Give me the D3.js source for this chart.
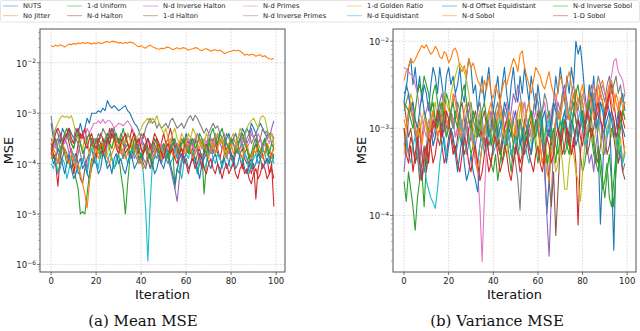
<!DOCTYPE html>
<html>
<head>
<meta charset="utf-8">
<script src="https://cdn.jsdelivr.net/npm/d3@7"></script>
<style>
  body { margin: 0; background: #fff; }
  svg { display: block; }
</style>
</head>
<body>
<div id="chart"></div>
<script>
// series names, in the order they were plotted (legend reads column by column)
var seriesNames = ["NUTS", "No Jitter", "1-d Uniform", "N-d Halton", "N-d Inverse Halton",
    "1-d Halton", "N-d Primes", "N-d Inverse Primes", "1-d Golden Ratio", "N-d Equidistant",
    "N-d Offset Equidistant", "N-d Sobol", "N-d Inverse Sobol", "1-D Sobol"];
var colors = ["#1f77b4", "#ff7f0e", "#2ca02c", "#d62728", "#9467bd", "#8c564b", "#e377c2",
    "#7f7f7f", "#bcbd22", "#17becf", "#1f77b4", "#ff7f0e", "#2ca02c", "#d62728"];

var iterations = d3.range(100);
var xTicks = [0, 20, 40, 60, 80, 100];
var meanYTicks = [-6, -5, -4, -3, -2];
var varYTicks = [-4, -3, -2];
var captions = ["(a) Mean MSE", "(b) Variance MSE"];

// values are log10(MSE)
// ---- (a) Mean MSE ----
var meanNUTS = [-3.2,-3.5,-3.3,-3.4,-3.6,-3.3,-3.4,-3.5,-3.3,-3.4, -3.5,-3.3,-3.4,-3.2,-3.4,-3.3,-3.1,-3.2,-3.0,-3.0,
    -3.0,-2.95,-2.98,-2.9,-2.95,-2.75,-2.85,-2.9,-2.85,-2.9, -2.95,-2.92,-2.88,-2.85,-2.95,-3.0,-3.1,-3.2,-3.25,-3.35,
    -3.5,-3.6,-3.7,-3.5,-3.6,-3.8,-3.7,-3.6,-3.8,-3.9, -3.7,-3.6,-3.8,-3.7,-3.5,-3.6,-3.9,-3.7,-3.5,-3.6,
    -3.4,-3.6,-3.5,-3.7,-3.6,-3.4,-3.5,-3.6,-3.8,-3.6, -3.5,-3.7,-3.8,-3.6,-3.4,-3.5,-3.6,-3.7,-3.5,-3.4,
    -3.6,-3.5,-3.4,-3.6,-3.5,-3.3,-3.4,-3.3,-3.4,-3.2, -3.3,-3.4,-3.3,-3.2,-3.3,-3.4,-3.35,-3.45,-3.4,-3.5];
var meanNoJitter = [-1.66,-1.68,-1.65,-1.67,-1.64,-1.66,-1.69,-1.66,-1.63,-1.64, -1.62,-1.63,-1.61,-1.62,-1.6,-1.62,-1.6,-1.61,-1.63,-1.61,
    -1.62,-1.6,-1.62,-1.61,-1.59,-1.58,-1.6,-1.57,-1.58,-1.59, -1.61,-1.6,-1.62,-1.6,-1.61,-1.59,-1.6,-1.62,-1.66,-1.68,
    -1.66,-1.69,-1.71,-1.67,-1.65,-1.68,-1.7,-1.72,-1.73,-1.71, -1.72,-1.7,-1.69,-1.71,-1.74,-1.72,-1.7,-1.73,-1.71,-1.7,
    -1.72,-1.75,-1.73,-1.72,-1.7,-1.71,-1.74,-1.76,-1.73,-1.72, -1.74,-1.77,-1.75,-1.74,-1.76,-1.75,-1.78,-1.82,-1.8,-1.78,
    -1.77,-1.75,-1.76,-1.75,-1.77,-1.8,-1.85,-1.83,-1.85,-1.83, -1.84,-1.87,-1.85,-1.84,-1.88,-1.86,-1.9,-1.92,-1.93,-1.91];
var meanUniform1d = [-3.7,-3.9,-3.8,-4.0,-3.7,-3.6,-3.8,-4.0,-3.9,-4.1, -4.0,-4.3,-4.5,-5.0,-4.95,-5.0,-4.6,-4.2,-3.9,-4.0,
    -3.8,-3.7,-3.9,-3.6,-3.8,-3.5,-3.7,-3.9,-4.1,-4.0, -3.8,-4.2,-4.5,-5.0,-4.4,-3.9,-3.7,-3.8,-3.6,-3.7,
    -3.9,-3.8,-3.6,-3.7,-3.9,-4.1,-3.8,-3.6,-3.8,-4.0, -3.7,-3.9,-4.0,-3.8,-3.6,-4.5,-4.1,-4.2,-3.9,-3.7,
    -3.6,-3.8,-3.5,-3.7,-3.9,-4.2,-4.0,-3.8,-4.6,-4.0, -3.7,-3.5,-3.6,-3.8,-3.6,-3.4,-3.5,-3.7,-3.9,-3.6,
    -3.8,-4.0,-3.7,-3.5,-3.4,-3.6,-3.8,-3.7,-3.9,-4.1, -3.8,-3.6,-3.7,-3.9,-3.7,-3.5,-3.8,-3.9,-4.0,-3.8];
var meanHaltonNd = [-3.6,-3.8,-4.0,-4.45,-3.9,-3.6,-3.5,-3.4,-3.6,-3.8, -4.2,-3.9,-3.6,-3.4,-3.5,-3.3,-3.6,-3.8,-3.5,-3.7,
    -3.9,-3.6,-3.4,-3.5,-3.7,-3.6,-3.3,-3.5,-3.4,-3.6, -3.5,-3.7,-3.9,-3.6,-3.4,-3.5,-3.3,-3.5,-3.6,-3.8,
    -3.6,-3.4,-3.5,-3.7,-3.9,-3.8,-3.6,-3.5,-3.7,-3.6, -3.4,-3.6,-3.5,-3.3,-3.5,-3.7,-3.6,-3.8,-3.9,-3.7,
    -3.5,-3.6,-3.8,-3.7,-3.5,-3.6,-3.9,-4.1,-3.8,-3.6, -3.8,-3.7,-3.5,-3.6,-3.8,-3.9,-3.7,-3.6,-3.8,-3.7,
    -3.9,-4.0,-3.8,-3.7,-3.9,-4.1,-3.8,-3.9,-4.0,-4.2, -4.0,-4.7,-4.1,-3.9,-3.8,-4.0,-3.9,-4.2,-4.0,-4.85];
var meanInvHaltonNd = [-3.5,-3.7,-3.6,-3.8,-3.9,-3.7,-3.5,-3.6,-3.8,-3.7, -3.9,-4.0,-3.8,-3.6,-3.7,-3.9,-4.1,-3.8,-3.6,-3.7,
    -3.5,-3.6,-3.8,-3.7,-3.9,-3.6,-3.4,-3.3,-3.5,-3.6, -3.8,-3.7,-3.5,-3.6,-3.4,-3.5,-3.7,-3.9,-3.8,-3.6,
    -3.7,-3.9,-4.0,-3.8,-3.6,-3.8,-3.9,-3.7,-3.8,-4.0, -3.8,-3.7,-3.9,-4.1,-4.3,-4.5,-4.75,-4.3,-4.0,-3.8,
    -3.6,-3.7,-3.5,-3.6,-3.8,-3.7,-3.9,-4.0,-3.8,-3.7, -3.5,-3.6,-3.8,-3.6,-3.4,-3.6,-3.7,-3.5,-3.6,-3.8,
    -3.7,-3.5,-3.6,-3.8,-3.7,-3.5,-3.4,-3.6,-3.5,-3.3, -3.5,-3.4,-3.6,-3.5,-3.7,-3.6,-3.4,-3.5,-3.3,-3.15];
var meanHalton1d = [-3.9,-3.8,-4.0,-4.2,-4.0,-3.9,-3.7,-3.8,-4.0,-4.1, -3.9,-3.8,-4.0,-4.3,-4.4,-4.1,-3.9,-3.8,-3.7,-3.9,
    -3.8,-3.6,-3.7,-3.5,-3.6,-3.4,-3.5,-3.3,-3.4,-3.6, -3.7,-3.5,-3.6,-3.8,-3.7,-3.9,-3.8,-3.6,-3.7,-3.9,
    -4.0,-3.8,-3.7,-3.9,-4.1,-3.9,-3.8,-3.7,-3.9,-3.8, -3.6,-3.7,-3.8,-3.6,-3.5,-3.7,-3.8,-3.6,-3.7,-3.9,
    -3.8,-3.6,-3.7,-3.9,-4.0,-3.8,-3.7,-3.9,-3.8,-3.6, -3.7,-3.8,-3.6,-3.5,-3.7,-3.9,-4.0,-3.8,-3.7,-3.6,
    -3.8,-3.9,-3.7,-3.6,-3.8,-3.7,-3.9,-4.0,-3.8,-3.9, -3.7,-3.6,-3.8,-3.9,-3.7,-3.8,-3.6,-3.9,-3.8,-3.7];
var meanPrimesNd = [-3.6,-3.5,-3.7,-3.6,-3.4,-3.5,-3.6,-3.5,-3.4,-3.6, -3.5,-3.4,-3.5,-3.6,-3.4,-3.5,-3.3,-3.4,-3.3,-3.2,
    -3.2,-3.15,-3.2,-3.12,-3.2,-3.15,-3.15,-3.2,-3.3,-3.25, -3.2,-3.22,-3.25,-3.2,-3.15,-3.22,-3.3,-3.4,-3.5,-3.6,
    -3.5,-3.7,-3.6,-3.8,-3.7,-3.6,-3.8,-3.9,-3.7,-3.6, -3.8,-3.7,-3.6,-3.5,-3.7,-3.8,-3.6,-3.7,-3.9,-3.8,
    -3.6,-3.5,-3.6,-3.7,-3.5,-3.4,-3.6,-3.7,-3.5,-3.6, -3.4,-3.5,-3.6,-3.4,-3.5,-3.6,-3.5,-3.4,-3.6,-3.7,
    -3.5,-3.6,-3.7,-3.5,-3.4,-3.6,-3.5,-3.7,-3.6,-3.4, -3.5,-3.6,-3.4,-3.5,-3.7,-3.6,-3.5,-3.6,-3.4,-3.5];
var meanInvPrimesNd = [-3.05,-3.4,-3.6,-3.5,-3.7,-3.6,-3.4,-3.5,-3.3,-3.6, -3.7,-3.5,-3.6,-3.8,-4.0,-3.7,-3.5,-3.4,-3.6,-3.5,
    -3.6,-3.4,-3.5,-3.3,-3.4,-3.5,-3.6,-3.4,-3.3,-3.5, -3.6,-3.4,-3.5,-3.7,-3.6,-3.8,-3.9,-3.7,-3.5,-3.6,
    -3.4,-3.5,-3.3,-3.2,-3.1,-3.2,-3.15,-3.3,-3.2,-3.3, -3.25,-3.2,-3.3,-3.15,-3.1,-3.2,-3.3,-3.25,-3.2,-3.3,
    -3.2,-3.1,-3.05,-3.15,-3.04,-3.1,-3.2,-3.3,-3.4,-3.3, -3.4,-3.3,-3.2,-3.3,-3.25,-3.4,-3.5,-3.6,-3.4,-3.5,
    -3.6,-3.5,-3.4,-3.6,-3.5,-3.7,-3.6,-3.5,-3.4,-3.6, -3.5,-3.4,-3.6,-3.5,-3.3,-3.4,-3.5,-3.4,-3.6,-3.5];
var meanGolden1d = [-3.6,-3.5,-3.3,-3.2,-3.1,-3.05,-3.08,-3.06,-3.1,-3.05, -3.2,-3.4,-3.5,-3.6,-3.7,-3.5,-3.6,-3.8,-3.7,-3.6,
    -3.7,-3.8,-3.6,-3.7,-3.9,-3.8,-3.6,-3.7,-3.5,-3.6, -3.8,-3.7,-3.5,-3.6,-3.4,-3.5,-3.7,-3.6,-3.5,-3.4,
    -3.3,-3.2,-3.15,-3.1,-3.2,-3.1,-3.15,-3.05,-3.2,-3.3, -3.4,-3.3,-3.5,-3.6,-3.4,-3.3,-3.5,-3.6,-3.4,-3.5,
    -3.6,-3.4,-3.5,-3.3,-3.4,-3.6,-3.7,-3.5,-3.6,-3.4, -3.5,-3.6,-3.7,-3.5,-3.4,-3.6,-3.5,-3.7,-3.8,-3.6,
    -3.5,-3.4,-3.6,-3.5,-3.3,-3.4,-3.5,-3.3,-3.2,-3.15, -3.1,-3.2,-3.3,-3.1,-3.05,-3.1,-3.3,-3.5,-3.4,-3.6];
var meanEquiNd = [-4.0,-4.1,-3.9,-4.2,-4.1,-3.9,-4.0,-4.3,-4.1,-3.9, -3.8,-4.0,-4.2,-4.1,-3.9,-4.0,-4.2,-3.9,-3.7,-3.8,
    -3.9,-4.1,-3.8,-3.7,-3.9,-4.0,-3.8,-3.9,-4.1,-3.9, -3.8,-3.7,-3.9,-3.8,-4.0,-3.9,-3.7,-3.8,-3.9,-4.0,
    -3.9,-4.2,-4.9,-5.93,-4.8,-4.0,-3.8,-3.9,-3.7,-3.8, -3.9,-3.7,-3.8,-4.0,-3.9,-3.7,-3.8,-4.1,-4.3,-4.0,
    -3.8,-3.9,-3.7,-3.8,-4.0,-4.2,-3.9,-3.8,-4.1,-4.0, -3.8,-3.7,-3.9,-4.0,-3.8,-3.9,-4.1,-3.9,-3.8,-4.0,
    -4.1,-3.9,-3.8,-3.7,-3.9,-4.0,-3.8,-3.9,-4.2,-4.0, -3.9,-3.8,-4.0,-3.9,-3.7,-3.8,-4.0,-3.9,-3.8,-4.0];
var meanOffsetEquiNd = [-3.8,-4.0,-3.9,-3.7,-3.8,-4.0,-4.2,-4.0,-3.8,-4.1, -4.3,-4.2,-4.0,-3.9,-4.1,-4.0,-4.2,-4.3,-4.1,-3.9,
    -4.0,-4.2,-4.1,-3.8,-3.9,-4.1,-4.0,-4.2,-3.9,-3.8, -4.0,-3.9,-4.1,-4.2,-4.0,-3.8,-3.9,-4.1,-4.0,-3.9,
    -3.8,-4.0,-4.1,-3.9,-3.8,-4.0,-4.2,-4.1,-3.9,-4.0, -4.1,-3.9,-3.8,-4.0,-4.2,-4.4,-4.1,-3.9,-3.8,-4.0,
    -3.9,-4.1,-4.0,-3.8,-3.9,-4.1,-4.3,-4.0,-3.9,-3.8, -4.0,-4.1,-3.9,-3.8,-4.0,-4.2,-4.0,-3.9,-4.1,-4.0,
    -3.8,-3.9,-4.1,-4.0,-3.8,-3.9,-4.1,-4.2,-4.0,-3.9, -4.1,-4.0,-3.8,-3.9,-4.1,-4.0,-3.9,-4.0,-3.8,-3.9];
var meanSobolNd = [-3.9,-3.7,-3.8,-4.0,-3.8,-3.6,-3.7,-3.9,-4.0,-3.8, -3.9,-4.1,-4.0,-4.2,-4.4,-4.6,-4.88,-4.4,-4.0,-3.8,
    -3.7,-3.9,-3.8,-3.6,-3.7,-3.9,-4.0,-3.8,-3.7,-3.5, -3.6,-3.8,-3.7,-3.9,-3.8,-3.6,-3.5,-3.7,-3.8,-4.0,
    -3.9,-4.1,-4.0,-3.8,-3.7,-3.9,-3.8,-3.6,-3.7,-3.9, -3.8,-3.6,-3.5,-3.7,-3.8,-3.9,-3.7,-3.6,-3.5,-3.7,
    -3.8,-3.6,-3.7,-3.9,-3.8,-3.6,-3.5,-3.7,-3.6,-3.8, -3.9,-3.7,-3.6,-3.8,-3.7,-3.5,-3.6,-3.8,-3.9,-3.7,
    -3.6,-3.8,-3.7,-3.6,-3.8,-3.9,-3.7,-3.6,-3.8,-3.9, -3.7,-3.8,-3.6,-3.7,-3.9,-3.8,-3.6,-3.7,-3.9,-3.6];
var meanInvSobolNd = [-3.7,-3.6,-3.5,-3.7,-3.8,-3.6,-3.4,-3.3,-3.5,-3.6, -3.7,-3.5,-3.4,-3.6,-3.8,-3.7,-3.5,-3.4,-3.6,-3.7,
    -3.5,-3.6,-3.8,-3.7,-3.5,-3.4,-3.6,-3.7,-3.5,-3.4, -3.6,-3.5,-3.3,-3.5,-3.6,-3.8,-3.7,-3.5,-3.6,-3.7,
    -3.9,-3.7,-3.6,-3.8,-3.9,-3.7,-3.5,-3.6,-3.8,-3.7, -3.6,-3.8,-3.9,-3.7,-3.6,-3.5,-3.7,-3.8,-3.6,-3.5,
    -3.7,-3.8,-3.6,-3.5,-3.7,-3.6,-3.4,-3.5,-3.7,-3.8, -3.6,-3.4,-3.3,-3.5,-3.6,-3.4,-3.3,-3.5,-3.6,-3.7,
    -3.5,-3.6,-3.8,-3.7,-3.5,-3.4,-3.6,-3.7,-3.9,-3.8, -3.6,-3.5,-3.7,-3.8,-3.6,-3.5,-3.7,-3.8,-3.6,-3.7];
var meanSobol1d = [-3.8,-3.6,-3.4,-3.3,-3.4,-3.6,-3.5,-3.4,-3.3,-3.5, -3.6,-3.4,-3.3,-3.5,-3.4,-3.6,-3.7,-3.5,-3.4,-3.6,
    -3.7,-3.5,-3.6,-3.8,-3.7,-3.5,-3.6,-3.4,-3.5,-3.7, -3.8,-3.6,-3.5,-3.4,-3.6,-3.7,-3.5,-3.4,-3.6,-3.5,
    -3.7,-3.8,-3.6,-3.5,-3.7,-3.6,-3.4,-3.5,-3.6,-3.8, -3.9,-3.7,-3.6,-3.8,-3.7,-3.9,-4.0,-3.8,-3.7,-3.9,
    -4.0,-4.2,-4.0,-3.9,-4.1,-4.0,-3.8,-3.9,-4.1,-4.2, -4.0,-3.9,-4.1,-4.2,-4.0,-4.1,-4.3,-4.1,-4.0,-4.2,
    -4.1,-4.0,-4.2,-4.3,-4.1,-4.0,-4.2,-4.1,-4.3,-4.4, -4.2,-4.1,-4.3,-4.2,-4.0,-4.1,-4.3,-4.2,-4.1,-4.3];

// ---- (b) Variance MSE ----
var varNUTS = [-2.6,-2.55,-2.3,-2.2,-2.5,-2.3,-2.6,-2.4,-2.7,-2.5, -2.6,-2.8,-2.5,-2.3,-2.4,-2.6,-2.3,-2.5,-2.7,-2.4,
    -2.3,-2.5,-2.4,-2.6,-2.5,-2.3,-2.6,-2.7,-2.4,-2.2, -2.3,-2.6,-2.5,-2.8,-2.6,-2.4,-2.7,-2.5,-2.3,-2.6,
    -2.8,-2.6,-2.4,-2.7,-2.5,-2.3,-2.6,-2.8,-2.5,-2.3, -2.6,-2.7,-2.4,-2.6,-2.3,-2.5,-2.7,-2.4,-2.6,-2.8,
    -2.5,-2.7,-2.9,-3.4,-3.98,-3.6,-3.0,-2.7,-2.4,-2.6, -2.3,-2.5,-2.7,-2.4,-2.6,-2.3,-2.5,-2.0,-2.15,-2.05,
    -2.3,-2.6,-2.8,-2.5,-2.7,-2.4,-2.8,-3.2,-4.1,-3.5, -2.9,-2.7,-2.8,-3.5,-4.4,-3.3,-2.9,-2.7,-2.6,-2.8];
var varNoJitter = [-2.45,-2.35,-2.3,-2.2,-2.25,-2.21,-2.15,-2.1,-2.05,-2.08, -2.04,-2.1,-2.15,-2.12,-2.06,-2.1,-2.18,-2.2,-2.12,-2.15,
    -2.25,-2.2,-2.1,-2.08,-2.15,-2.3,-2.35,-2.28,-2.4,-2.2, -2.3,-2.25,-2.35,-2.45,-2.5,-2.6,-2.45,-2.55,-2.4,-2.6,
    -2.65,-2.5,-2.6,-2.7,-2.55,-2.45,-2.5,-2.4,-2.3,-2.2, -2.25,-2.35,-2.15,-2.11,-2.3,-2.4,-2.5,-2.6,-2.45,-2.3,
    -2.35,-2.4,-2.5,-2.55,-2.45,-2.35,-2.5,-2.6,-2.7,-2.55, -2.4,-2.5,-2.6,-2.45,-2.35,-2.5,-2.65,-2.55,-2.7,-2.6,
    -2.5,-2.7,-2.8,-2.9,-2.75,-2.6,-2.55,-2.7,-2.5,-2.45, -2.6,-2.75,-2.55,-2.45,-2.6,-2.7,-2.8,-2.65,-2.75,-2.9];
var varUniform1d = [-3.61,-3.84,-3.5,-3.7,-3.9,-4.17,-3.8,-3.6,-3.5,-3.9, -3.4,-3.1,-2.8,-2.6,-2.5,-2.7,-2.9,-3.1,-2.8,-2.6,
    -2.7,-2.9,-3.0,-2.8,-2.9,-3.1,-3.2,-3.0,-2.9,-3.1, -3.3,-3.2,-3.0,-3.1,-2.9,-3.0,-3.2,-3.1,-3.3,-3.4,
    -3.5,-3.3,-3.6,-3.4,-3.2,-3.0,-3.1,-3.3,-3.5,-3.2, -3.0,-2.9,-3.1,-3.3,-3.2,-3.0,-2.9,-2.8,-3.0,-3.2,
    -3.4,-3.2,-3.0,-3.1,-2.9,-2.8,-3.0,-3.2,-3.4,-3.1, -2.9,-3.1,-3.3,-3.2,-3.0,-2.8,-2.7,-2.9,-3.1,-3.3,
    -3.5,-3.4,-3.2,-3.0,-3.1,-3.3,-3.4,-3.2,-3.5,-3.7, -3.6,-3.4,-3.8,-3.9,-3.6,-3.3,-3.1,-2.9,-2.8,-2.7];
var varHaltonNd = [-3.0,-3.1,-3.3,-3.1,-3.2,-3.4,-3.2,-3.0,-3.3,-3.5, -3.3,-3.1,-3.2,-3.4,-3.3,-3.1,-3.0,-3.2,-3.4,-3.3,
    -3.1,-3.0,-3.2,-3.3,-3.1,-2.9,-3.1,-3.3,-3.2,-3.0, -2.9,-3.1,-3.3,-3.4,-3.2,-3.0,-3.1,-3.3,-3.5,-3.4,
    -3.2,-3.0,-3.1,-3.3,-3.2,-3.0,-2.9,-3.1,-3.3,-3.2, -3.0,-3.2,-3.4,-3.3,-3.1,-3.0,-3.2,-3.3,-3.1,-2.9,
    -3.0,-3.2,-3.4,-3.3,-3.1,-3.0,-3.2,-3.1,-2.9,-3.0, -3.2,-3.1,-2.9,-3.0,-3.2,-3.3,-3.1,-3.4,-4.11,-3.3,
    -3.0,-2.9,-3.1,-3.0,-2.8,-2.7,-2.9,-2.8,-2.6,-2.7, -2.9,-2.8,-2.6,-2.5,-2.7,-2.9,-3.0,-2.8,-3.1,-3.3];
var varInvHaltonNd = [-3.5,-3.2,-2.9,-2.7,-2.8,-3.0,-3.2,-3.4,-3.1,-2.9, -2.8,-2.7,-2.9,-3.1,-3.0,-2.8,-2.7,-2.6,-2.8,-3.0,
    -2.9,-2.8,-2.7,-2.6,-2.8,-2.9,-3.1,-3.0,-2.8,-2.7, -2.9,-3.1,-3.2,-3.0,-2.8,-3.0,-3.2,-3.1,-2.9,-2.8,
    -3.0,-3.1,-2.9,-2.7,-2.8,-3.0,-3.2,-3.0,-2.8,-2.6, -2.7,-2.5,-2.6,-2.8,-2.7,-2.9,-3.1,-3.0,-2.8,-2.6,
    -2.7,-2.9,-3.1,-3.5,-4.0,-4.47,-3.8,-3.2,-2.9,-2.7, -2.8,-2.6,-2.5,-2.7,-2.9,-2.8,-2.6,-2.7,-2.9,-3.0,
    -2.8,-3.0,-3.2,-3.4,-3.3,-3.5,-3.2,-3.0,-2.9,-3.1, -3.3,-3.1,-2.9,-2.8,-3.0,-3.2,-3.4,-3.3,-3.5,-3.4];
var varHalton1d = [-2.7,-2.9,-3.1,-3.0,-3.2,-3.4,-3.3,-3.6,-3.4,-3.2, -3.5,-3.3,-3.1,-3.0,-2.9,-3.1,-3.2,-3.0,-2.8,-2.9,
    -3.0,-2.8,-2.9,-3.1,-3.0,-2.8,-2.7,-2.9,-3.0,-3.2, -3.1,-2.9,-2.8,-3.0,-3.1,-2.9,-2.8,-3.0,-3.2,-3.1,
    -2.9,-3.0,-3.2,-3.3,-3.1,-3.0,-2.9,-3.1,-3.3,-3.4, -3.2,-3.0,-2.9,-3.1,-3.3,-3.2,-3.0,-2.9,-3.1,-3.0,
    -2.8,-3.0,-3.2,-3.4,-3.3,-3.6,-3.9,-3.5,-4.23,-3.7, -3.2,-3.0,-2.9,-3.1,-3.2,-3.0,-2.8,-2.9,-3.1,-3.0,
    -2.9,-3.1,-3.3,-3.2,-3.0,-3.1,-3.3,-3.4,-3.2,-3.0, -3.1,-3.3,-3.2,-3.0,-3.1,-3.3,-3.4,-3.2,-3.5,-3.59];
var varPrimesNd = [-2.3,-2.32,-2.35,-2.38,-2.4,-2.5,-2.6,-2.8,-2.9,-3.0, -3.1,-2.9,-3.0,-3.2,-3.1,-2.9,-3.0,-2.8,-2.7,-2.9,
    -3.0,-2.8,-2.9,-3.1,-3.0,-2.9,-3.1,-3.2,-3.0,-2.9, -3.1,-3.2,-3.4,-3.5,-3.9,-4.53,-3.8,-3.2,-3.0,-2.9,
    -3.0,-2.8,-2.9,-3.1,-3.0,-2.8,-2.7,-2.9,-3.0,-2.8, -2.9,-3.1,-3.0,-2.8,-2.7,-2.9,-3.0,-3.1,-2.9,-2.8,
    -3.0,-2.9,-2.8,-2.7,-2.9,-3.0,-2.8,-2.7,-2.6,-2.8, -2.9,-2.7,-2.6,-2.8,-2.9,-3.0,-2.8,-2.7,-2.9,-2.8,
    -2.6,-2.7,-2.9,-2.8,-2.6,-2.5,-2.7,-2.8,-2.6,-2.5, -2.6,-2.7,-2.5,-2.4,-2.23,-2.2,-2.35,-2.4,-2.45,-2.6];
var varInvPrimesNd = [-2.8,-2.7,-2.6,-2.8,-2.9,-3.1,-3.0,-3.3,-3.6,-3.4, -3.2,-3.0,-2.9,-2.8,-3.0,-2.9,-2.7,-2.8,-3.0,-3.1,
    -2.9,-2.8,-3.0,-2.9,-2.7,-2.8,-3.0,-3.1,-2.9,-2.8, -2.7,-2.9,-3.0,-2.8,-2.7,-2.9,-3.1,-3.0,-2.8,-2.9,
    -3.0,-2.8,-2.7,-2.9,-3.0,-2.8,-2.9,-3.1,-3.3,-3.2, -3.4,-3.6,-3.94,-3.3,-3.0,-2.8,-2.7,-2.9,-2.8,-2.6,
    -2.7,-2.9,-2.8,-2.6,-2.7,-2.9,-3.0,-2.8,-2.7,-2.9, -2.8,-2.6,-2.7,-2.9,-2.8,-2.6,-2.5,-2.7,-2.8,-2.6,
    -2.7,-2.9,-2.8,-2.6,-2.5,-2.7,-2.6,-2.4,-2.5,-2.6, -2.7,-2.5,-2.4,-2.6,-2.5,-2.4,-2.6,-2.5,-2.7,-2.6];
var varGolden1d = [-3.3,-3.0,-2.8,-2.6,-2.7,-2.9,-3.0,-3.1,-2.9,-2.8, -3.0,-3.1,-2.9,-2.8,-2.7,-2.9,-3.0,-2.8,-2.6,-2.7,
    -2.8,-2.6,-2.5,-2.4,-2.3,-2.25,-2.3,-2.35,-2.45,-2.6, -2.8,-3.0,-3.1,-2.9,-2.8,-3.0,-3.1,-2.9,-2.8,-3.0,
    -3.2,-3.1,-2.9,-2.8,-3.0,-3.1,-3.3,-3.2,-3.0,-2.9, -3.1,-3.0,-2.8,-2.7,-2.9,-3.0,-3.2,-3.1,-2.9,-3.1,
    -3.3,-3.2,-3.0,-3.1,-3.3,-3.4,-3.2,-3.3,-3.5,-3.4, -3.2,-3.4,-3.7,-3.7,-3.4,-3.2,-3.3,-3.5,-3.6,-3.84,
    -3.5,-3.2,-3.0,-2.9,-3.1,-3.2,-3.0,-2.9,-3.1,-3.3, -3.2,-3.0,-2.9,-3.1,-3.0,-3.2,-3.3,-3.1,-3.4,-3.2];
var varEquiNd = [-3.2,-3.1,-3.3,-3.4,-3.2,-3.1,-3.3,-3.5,-3.6,-3.4, -3.6,-3.7,-3.8,-3.85,-3.92,-3.7,-3.4,-3.2,-3.1,-3.3,
    -3.2,-3.0,-3.1,-3.3,-3.2,-3.0,-2.9,-3.1,-3.3,-3.2, -3.0,-3.1,-3.3,-3.4,-3.2,-3.1,-3.3,-3.2,-3.0,-3.1,
    -3.3,-3.2,-3.0,-2.9,-3.1,-3.2,-3.0,-3.1,-3.3,-3.2, -3.1,-3.3,-3.2,-3.0,-3.1,-3.3,-3.4,-3.2,-3.0,-3.1,
    -3.0,-2.9,-3.1,-3.2,-3.0,-2.9,-3.1,-3.2,-3.0,-2.8, -2.9,-3.0,-2.8,-2.7,-2.9,-2.8,-3.0,-3.1,-2.9,-2.8,
    -3.0,-3.2,-3.1,-2.9,-2.8,-2.7,-2.9,-3.0,-2.8,-2.7, -2.9,-3.1,-3.0,-2.8,-2.9,-3.1,-3.3,-3.2,-3.4,-3.3];
var varOffsetEquiNd = [-2.7,-2.5,-2.6,-2.8,-2.7,-2.9,-3.0,-2.8,-2.6,-2.8, -2.9,-3.1,-3.0,-3.2,-3.1,-2.9,-2.8,-3.0,-3.2,-3.4,
    -3.2,-3.0,-3.1,-3.3,-3.5,-3.3,-3.1,-3.4,-3.6,-3.5, -3.3,-3.5,-3.6,-3.73,-3.4,-3.2,-3.0,-2.9,-3.1,-3.0,
    -2.8,-2.9,-3.1,-3.0,-2.9,-2.7,-2.8,-3.0,-3.1,-2.9, -2.8,-3.0,-3.2,-3.1,-2.9,-3.0,-3.2,-3.3,-3.1,-2.9,
    -3.0,-3.1,-2.9,-2.8,-3.0,-3.1,-2.9,-2.7,-2.8,-3.0, -3.1,-2.9,-2.8,-3.0,-3.1,-2.9,-3.0,-3.2,-3.1,-2.9,
    -2.8,-3.0,-2.9,-2.7,-2.6,-2.8,-3.0,-2.9,-2.7,-2.8, -3.0,-2.9,-2.8,-2.9,-3.1,-3.0,-2.8,-2.9,-3.0,-3.1];
var varSobolNd = [-2.9,-3.0,-2.8,-2.7,-2.9,-3.0,-3.1,-2.9,-3.2,-3.0, -2.9,-3.1,-3.0,-2.8,-2.9,-3.1,-3.0,-2.8,-2.7,-2.9,
    -3.0,-2.8,-2.6,-2.7,-2.9,-3.1,-3.0,-2.8,-2.7,-2.9, -3.0,-3.2,-3.3,-3.5,-3.4,-3.2,-3.0,-2.9,-2.8,-2.7,
    -2.9,-3.0,-2.8,-2.7,-2.9,-3.1,-3.0,-2.8,-2.9,-3.1, -3.0,-2.8,-2.7,-2.9,-3.0,-2.8,-2.7,-2.9,-3.1,-3.0,
    -2.9,-3.2,-3.4,-3.3,-3.5,-3.6,-3.3,-3.1,-2.9,-2.8, -2.9,-2.7,-2.6,-2.8,-2.9,-2.7,-2.6,-2.8,-2.7,-2.6,
    -2.7,-2.9,-2.8,-2.6,-2.7,-2.9,-2.8,-2.5,-2.6,-2.7, -2.8,-2.6,-2.5,-2.7,-2.8,-2.6,-2.7,-2.9,-2.8,-2.7];
var varInvSobolNd = [-2.7,-2.75,-2.8,-2.9,-3.0,-2.8,-2.6,-2.5,-2.6,-2.4, -2.5,-2.6,-2.8,-2.7,-2.9,-3.0,-2.8,-2.7,-2.9,-3.1,
    -3.0,-2.8,-2.7,-2.9,-3.0,-2.8,-2.6,-2.5,-2.7,-2.9, -3.0,-2.8,-2.9,-3.1,-3.0,-2.8,-2.7,-2.9,-3.0,-3.2,
    -3.1,-2.9,-3.0,-3.2,-3.4,-3.3,-3.1,-2.9,-3.0,-3.2, -3.3,-3.1,-2.9,-3.0,-3.2,-3.1,-2.9,-2.8,-3.0,-3.1,
    -2.9,-2.8,-3.0,-3.2,-3.4,-3.3,-3.1,-3.0,-3.2,-3.3, -3.1,-2.9,-3.0,-3.2,-3.3,-3.1,-2.8,-2.6,-2.5,-2.7,
    -2.9,-3.0,-2.8,-2.7,-2.9,-3.2,-3.4,-3.5,-3.3,-3.6, -3.8,-3.5,-3.3,-3.6,-3.9,-3.5,-3.2,-3.0,-2.8,-2.9];
var varSobol1d = [-3.0,-3.3,-3.4,-3.2,-3.5,-3.3,-3.1,-3.4,-3.6,-3.3, -3.2,-3.4,-3.1,-2.9,-3.0,-2.8,-2.9,-3.1,-3.0,-2.8,
    -2.9,-3.1,-3.3,-3.2,-3.4,-3.5,-3.3,-3.1,-3.2,-3.4, -3.5,-3.3,-3.2,-3.4,-3.6,-3.5,-3.3,-3.1,-3.3,-3.4,
    -3.2,-3.1,-3.3,-3.5,-3.4,-3.2,-3.3,-3.5,-3.6,-3.4, -3.2,-3.3,-3.5,-3.4,-3.2,-3.1,-3.3,-3.4,-3.5,-3.3,
    -3.2,-3.4,-3.5,-3.3,-3.1,-3.2,-3.4,-3.3,-3.1,-3.0, -3.1,-3.3,-3.2,-3.0,-3.1,-3.3,-3.2,-3.0,-2.9,-3.1,
    -3.2,-3.0,-2.8,-2.9,-3.1,-3.0,-2.8,-2.7,-2.9,-3.0, -2.8,-2.7,-2.6,-2.8,-2.9,-3.1,-3.0,-2.8,-2.9,-3.0];

var meanSeries = [meanNUTS, meanNoJitter, meanUniform1d, meanHaltonNd, meanInvHaltonNd, meanHalton1d,
    meanPrimesNd, meanInvPrimesNd, meanGolden1d, meanEquiNd, meanOffsetEquiNd, meanSobolNd, meanInvSobolNd, meanSobol1d];
var varSeries = [varNUTS, varNoJitter, varUniform1d, varHaltonNd, varInvHaltonNd, varHalton1d,
    varPrimesNd, varInvPrimesNd, varGolden1d, varEquiNd, varOffsetEquiNd, varSobolNd, varInvSobolNd, varSobol1d];

var w = 640, h = 331;
var svg = d3.select("#chart").append("svg")
    .attr("width", w)
    .attr("height", h)
    .attr("font-family", "'DejaVu Sans', sans-serif");

function drawPanel(cfg) {
    var g = svg.append("g");
    var x = d3.scaleLinear().domain([-4.95, 103.95]).range([cfg.left, cfg.right]);
    var y = d3.scaleLog().domain([Math.pow(10, cfg.logMin), Math.pow(10, cfg.logMax)])
        .range([cfg.bottom, cfg.top]);

    // grid
    g.selectAll(".gx").data(xTicks).enter().append("line")
        .attr("x1", function(d) { return x(d); }).attr("x2", function(d) { return x(d); })
        .attr("y1", cfg.top).attr("y2", cfg.bottom)
        .attr("stroke", "#d0d0d0").attr("stroke-width", 0.8).attr("stroke-dasharray", "1.5,1.5");
    g.selectAll(".gy").data(cfg.yTicks).enter().append("line")
        .attr("x1", cfg.left).attr("x2", cfg.right)
        .attr("y1", function(d) { return y(Math.pow(10, d)); })
        .attr("y2", function(d) { return y(Math.pow(10, d)); })
        .attr("stroke", "#d0d0d0").attr("stroke-width", 0.8).attr("stroke-dasharray", "1.5,1.5");

    // lines
    var clipId = "clip" + cfg.id;
    g.append("clipPath").attr("id", clipId).append("rect")
        .attr("x", cfg.left).attr("y", cfg.top)
        .attr("width", cfg.right - cfg.left).attr("height", cfg.bottom - cfg.top);
    var line = d3.line()
        .x(function(d, i) { return x(iterations[i]); })
        .y(function(d) { return y(Math.pow(10, d)); });
    g.append("g").attr("clip-path", "url(#" + clipId + ")")
        .selectAll("path").data(cfg.series).enter().append("path")
        .attr("d", line)
        .attr("fill", "none")
        .attr("stroke", function(d, i) { return colors[i]; })
        .attr("stroke-width", 1.1)
        .attr("stroke-linejoin", "round");

    // frame
    g.append("rect")
        .attr("x", cfg.left).attr("y", cfg.top)
        .attr("width", cfg.right - cfg.left).attr("height", cfg.bottom - cfg.top)
        .attr("fill", "none").attr("stroke", "#555").attr("stroke-width", 1);

    // x ticks
    var xt = g.selectAll(".xt").data(xTicks).enter().append("g");
    xt.append("line")
        .attr("x1", function(d) { return x(d); }).attr("x2", function(d) { return x(d); })
        .attr("y1", cfg.bottom).attr("y2", cfg.bottom + 3)
        .attr("stroke", "#555").attr("stroke-width", 0.8);
    xt.append("text")
        .attr("x", function(d) { return x(d); })
        .attr("y", cfg.bottom + 12)
        .attr("text-anchor", "middle")
        .attr("font-size", "8.5px")
        .attr("fill", "#222")
        .text(function(d) { return d; });

    // y minor ticks
    var minors = [];
    for (var e = Math.floor(cfg.logMin); e < cfg.logMax; e++) {
        for (var k = 2; k < 10; k++) {
            var v = Math.log10(k) + e;
            if (v > cfg.logMin && v < cfg.logMax) minors.push(v);
        }
    }
    g.selectAll(".ym").data(minors).enter().append("line")
        .attr("x1", cfg.left - 2).attr("x2", cfg.left)
        .attr("y1", function(d) { return y(Math.pow(10, d)); })
        .attr("y2", function(d) { return y(Math.pow(10, d)); })
        .attr("stroke", "#777").attr("stroke-width", 0.6);

    // y ticks, labels as 10 with a raised exponent
    var yt = g.selectAll(".yt").data(cfg.yTicks).enter().append("g");
    yt.append("line")
        .attr("x1", cfg.left - 3).attr("x2", cfg.left)
        .attr("y1", function(d) { return y(Math.pow(10, d)); })
        .attr("y2", function(d) { return y(Math.pow(10, d)); })
        .attr("stroke", "#555").attr("stroke-width", 0.8);
    var lab = yt.append("text")
        .attr("x", cfg.left - 4)
        .attr("y", function(d) { return y(Math.pow(10, d)) + 4; })
        .attr("text-anchor", "end")
        .attr("font-size", "8.5px")
        .attr("fill", "#222");
    lab.append("tspan").text("10");
    lab.append("tspan")
        .attr("dy", -3.5)
        .attr("font-size", "6px")
        .text(function(d) { return "\u2212" + Math.abs(d); });

    // axis labels
    g.append("text")
        .attr("x", (cfg.left + cfg.right) / 2)
        .attr("y", cfg.bottom + 27)
        .attr("text-anchor", "middle")
        .attr("font-size", "13px")
        .attr("fill", "#111")
        .text("Iteration");
    g.append("text")
        .attr("transform", "translate(" + cfg.yLabelX + "," + ((cfg.top + cfg.bottom) / 2) + ") rotate(-90)")
        .attr("text-anchor", "middle")
        .attr("font-size", "13px")
        .attr("fill", "#111")
        .text("MSE");

    // caption
    svg.append("text")
        .attr("x", cfg.captionX)
        .attr("y", 326)
        .attr("text-anchor", "middle")
        .attr("font-family", "'DejaVu Serif', serif")
        .attr("font-size", "15px")
        .attr("fill", "#111")
        .text(cfg.caption);
}

drawPanel({id: "a", left: 40, right: 285, top: 29, bottom: 272, logMin: -6.15, logMax: -1.33,
    yTicks: meanYTicks, series: meanSeries, yLabelX: 13, captionX: 143, caption: captions[0]});
drawPanel({id: "b", left: 393, right: 636, top: 29, bottom: 272, logMin: -4.65, logMax: -1.86,
    yTicks: varYTicks, series: varSeries, yLabelX: 366, captionX: 497, caption: captions[1]});

// legend: 7 columns x 2 rows, filled column by column
var colX = [3, 67, 143, 243, 347, 442, 553];
var rowY = [6, 15.7];
svg.append("rect")
    .attr("x", 0.5).attr("y", 0.5).attr("width", 639).attr("height", 21.5)
    .attr("rx", 2).attr("fill", "#fff").attr("stroke", "#ddd").attr("stroke-width", 0.8);
var leg = svg.selectAll(".leg").data(seriesNames).enter().append("g")
    .attr("transform", function(d, i) {
        return "translate(" + colX[Math.floor(i / 2)] + "," + rowY[i % 2] + ")";
    });
leg.append("line")
    .attr("x1", 0).attr("x2", 15).attr("y1", 0).attr("y2", 0)
    .attr("stroke", function(d, i) { return colors[i]; })
    .attr("stroke-opacity", 0.5)
    .attr("stroke-width", 1);
leg.append("text")
    .attr("x", 20).attr("y", 2.3)
    .attr("font-size", "6.7px")
    .attr("fill", "#222")
    .text(function(d) { return d; });
</script>
</body>
</html>
